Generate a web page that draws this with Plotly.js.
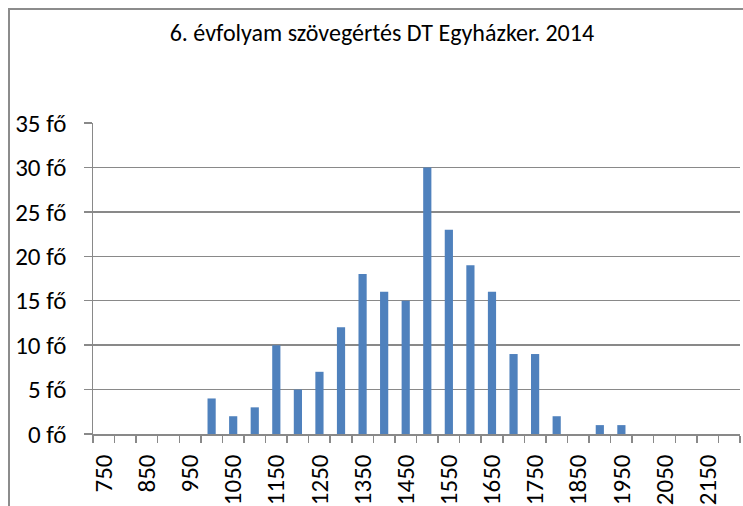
<!DOCTYPE html>
<html>
<head>
<meta charset="utf-8">
<script src="https://cdn.plot.ly/plotly-3.0.1.min.js"></script>
<style>
html,body{margin:0;padding:0;background:#fff;overflow:hidden;}
#chart{width:743px;height:506px;}
#frame{position:absolute;left:8px;top:8px;width:760px;height:520px;border:2px solid #8c8c8c;pointer-events:none;box-sizing:border-box;}
</style>
</head>
<body>
<div id="chart"></div>
<div id="frame"></div>
<script>
const categories = [750,800,850,900,950,1000,1050,1100,1150,1200,1250,1300,1350,1400,1450,1500,1550,1600,1650,1700,1750,1800,1850,1900,1950,2000,2050,2100,2150,2200];
const counts =     [0,0,0,0,0,4,2,3,10,5,7,12,18,16,15,30,23,19,16,9,9,2,0,1,1,0,0,0,0,0];
const tickLabels = [750,850,950,1050,1150,1250,1350,1450,1550,1650,1750,1850,1950,2050,2150];
const yTicks = [0,5,10,15,20,25,30,35];
const titleText = "6. évfolyam szövegértés DT Egyházker. 2014";

const font = "Carlito, Calibri, 'Open Sans', sans-serif";
const grid = "#898989";

Plotly.newPlot('chart', [{
  type: 'bar',
  x: categories,
  y: counts,
  width: 19,
  marker: {color: '#4f81bd'},
  hoverinfo: 'x+y'
}], {
  width: 743, height: 506,
  margin: {l: 93, r: 3, t: 123, b: 72, pad: 0},
  paper_bgcolor: '#fff', plot_bgcolor: '#fff',
  showlegend: false,
  font: {family: font, color: '#000', size: 25},
  title: {text: titleText, x: 0.514, xref: 'container', xanchor: 'center', y: 0.935, yref: 'container', yanchor: 'middle', font: {family: font, size: 24, color: '#000'}},
  xaxis: {
    type: 'linear',
    range: [725, 2225],
    tickmode: 'array',
    tickvals: tickLabels,
    ticktext: tickLabels.map(String),
    tickangle: -90,
    ticks: '',
    showgrid: false,
    zeroline: false,
    showline: true, linecolor: grid, linewidth: 1.5,
    ticklabelstandoff: 9,
    tickfont: {family: font, size: 25, color: '#000'},
    minor: {tick0: 725, dtick: 50, ticks: 'outside', ticklen: 7, tickcolor: grid, tickwidth: 1.5, showgrid: false}
  },
  yaxis: {
    range: [0, 35],
    tickmode: 'array',
    tickvals: yTicks,
    ticktext: yTicks.map(v => v + ' fő'),
    ticks: 'outside', ticklen: 8, tickcolor: grid, tickwidth: 1.5,
    showgrid: true, gridcolor: grid, gridwidth: 1.5,
    zeroline: false,
    showline: true, linecolor: grid, linewidth: 1.5,
    ticklabelstandoff: 12,
    tickfont: {family: font, size: 25, color: '#000'}
  }
}, {displayModeBar: false, staticPlot: true});
</script>
</body>
</html>
